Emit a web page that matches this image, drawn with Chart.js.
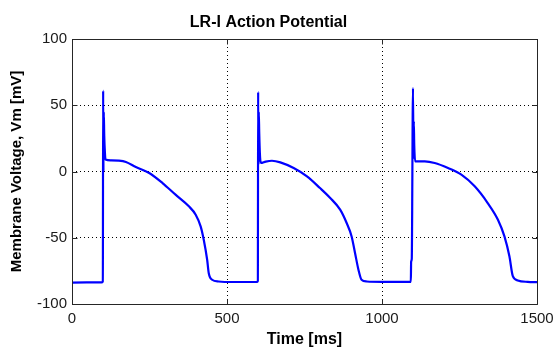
<!DOCTYPE html>
<html>
<head>
<meta charset="utf-8">
<script src="https://cdn.jsdelivr.net/npm/chart.js@4.4.0/dist/chart.umd.min.js"></script>
<style>
    html, body { margin: 0; padding: 0; background: #fff; }
    #ap-chart { display: block; }
</style>
</head>
<body>
<canvas id="ap-chart" width="553" height="349"></canvas>
<script>
// 时间轴 (ms)
const timeMs = [
    0, 95, 99.5, 100.5, 101.5, 102.5, 104, 106, 108, 125, 150, 174, 206, 249, 292, 334, 377, 399, 415, 425, 436, 441, 452, 473, 520, 596,
    599.5, 600.5, 601.5, 602.5, 604, 606, 609, 625, 645, 672, 715, 758, 800, 833, 865, 886, 902, 913, 924, 934, 951, 1000, 1093,
    1094, 1096, 1100, 1101.5, 1102.5, 1104, 1107, 1138, 1170, 1213, 1256, 1299, 1341, 1374, 1395, 1411, 1422, 1438, 1470, 1500
];

// 膜电位 (mV)
const vmMv = [
    -83.8, -83.7, -83.0, 61, 0, 45, 27, 15, 9, 8.4, 8.2, 7.2, 3.4, -1.1, -8.7, -17.5, -26.3, -32.6, -41.4, -51.5, -66.6, -76.6, -81.7, -83.0, -83.4, -83.4,
    -82.5, 60, 5, 45, 29, 14, 6.4, 7.5, 8.1, 6.9, 2.6, -3.7, -12.5, -20.0, -28.8, -38.9, -49.0, -61.5, -74.1, -81.7, -83.0, -83.3, -83.3,
    -68, -66, 63, 10, 38, 20, 7.6, 7.6, 6.4, 2.6, -2.4, -11.2, -23.8, -36.4, -49.0, -64.0, -79.0, -82.2, -83.3, -83.5
];

const xTicks = [0, 500, 1000, 1500];
const yTicks = [-100, -50, 0, 50, 100];

const chartTitle = 'LR-I Action Potential';
const xTitle = 'Time [ms]';
const yTitle = 'Membrane Voltage, Vm [mV]';

// 坐标框和向内的刻度线
const axesBox = {
    id: 'axesBox',
    afterDatasetsDraw(chart) {
        const {ctx, chartArea: a, scales: {x, y}} = chart;
        const l = Math.round(a.left) + 0.5, r = Math.round(a.right) + 0.5;
        const t = Math.round(a.top) + 0.5, b = Math.round(a.bottom) + 0.5;
        ctx.save();
        ctx.strokeStyle = '#262626';
        ctx.lineWidth = 1;
        ctx.beginPath();
        ctx.rect(l, t, r - l, b - t);
        xTicks.forEach(v => {
            const px = Math.round(x.getPixelForValue(v)) + 0.5;
            ctx.moveTo(px, b); ctx.lineTo(px, b - 5);
            ctx.moveTo(px, t); ctx.lineTo(px, t + 5);
        });
        yTicks.forEach(v => {
            const py = Math.round(y.getPixelForValue(v)) + 0.5;
            ctx.moveTo(l, py); ctx.lineTo(l + 5, py);
            ctx.moveTo(r, py); ctx.lineTo(r - 5, py);
        });
        ctx.stroke();
        ctx.restore();
    }
};

function createApChart() {
    const ctx = document.getElementById('ap-chart').getContext('2d');
    new Chart(ctx, {
        type: 'line',
        data: {
            datasets: [{
                data: timeMs.map((t, i) => ({x: t, y: vmMv[i]})),
                borderColor: '#0000ff',
                borderWidth: 2.2,
                pointRadius: 0,
                fill: false,
                cubicInterpolationMode: 'monotone'
            }]
        },
        options: {
            responsive: false,
            animation: false,
            devicePixelRatio: 1,
            layout: {
                padding: {top: 0, right: 16, bottom: 0, left: 0}
            },
            plugins: {
                legend: {display: false},
                tooltip: {enabled: false},
                title: {
                    display: true,
                    text: chartTitle,
                    color: '#000',
                    font: {family: 'Liberation Sans, Arial, sans-serif', size: 16, weight: 'bold'},
                    padding: {top: 13, bottom: 6.8}
                }
            },
            scales: {
                x: {
                    type: 'linear',
                    min: 0,
                    max: 1500,
                    afterBuildTicks: s => { s.ticks = xTicks.map(v => ({value: v})); },
                    afterFit: s => { s.height = 45; s.paddingLeft = 0; s.paddingRight = 0; },
                    grid: {color: '#000', drawTicks: false},
                    border: {display: false, dash: [1, 3]},
                    ticks: {
                        color: '#1a1a1a',
                        padding: 6,
                        maxRotation: 0,
                        callback: v => String(v),
                        font: {family: 'Liberation Sans, Arial, sans-serif', size: 15}
                    },
                    title: {
                        display: true,
                        text: xTitle,
                        color: '#000',
                        padding: {top: 0, bottom: 0},
                        font: {family: 'Liberation Sans, Arial, sans-serif', size: 16, weight: 'bold'}
                    }
                },
                y: {
                    min: -100,
                    max: 100,
                    afterBuildTicks: s => { s.ticks = yTicks.map(v => ({value: v})); },
                    afterFit: s => { s.width = 72; s.paddingTop = 0; s.paddingBottom = 0; },
                    grid: {color: '#000', drawTicks: false},
                    border: {display: false, dash: [1, 3]},
                    ticks: {
                        color: '#1a1a1a',
                        padding: 5,
                        callback: v => String(v),
                        font: {family: 'Liberation Sans, Arial, sans-serif', size: 15}
                    },
                    title: {
                        display: true,
                        text: yTitle,
                        color: '#000',
                        padding: {top: 8, bottom: 0},
                        font: {family: 'Liberation Sans, Arial, sans-serif', size: 15, weight: 'bold'}
                    }
                }
            }
        },
        plugins: [axesBox]
    });
}

document.addEventListener('DOMContentLoaded', function() {
    createApChart();
});
</script>
</body>
</html>
